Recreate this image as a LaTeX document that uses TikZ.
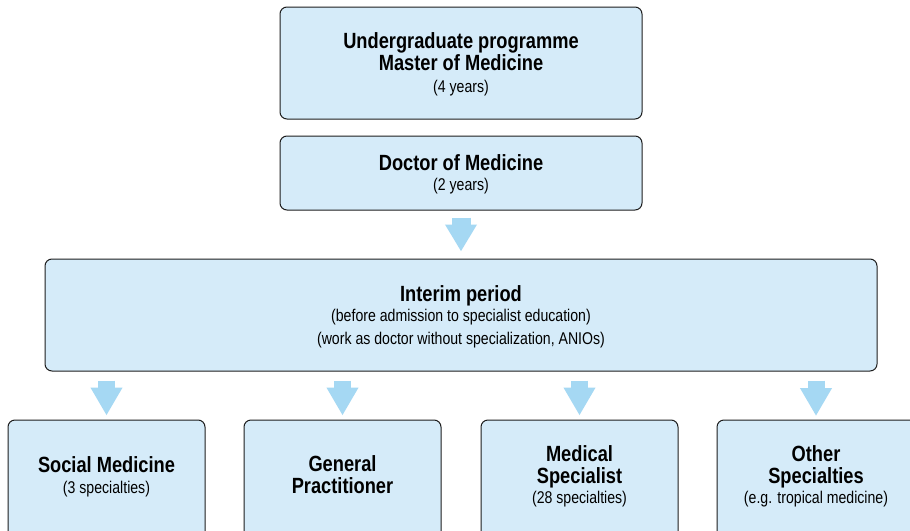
\documentclass[tikz,border=0pt]{standalone}
\usepackage{fontspec}
\setmainfont[FakeStretch=0.83]{Liberation Sans}
\usetikzlibrary{arrows.meta}
\definecolor{boxfill}{HTML}{D5EBF9}
\definecolor{arrowfill}{HTML}{A5D8F3}
\definecolor{boxline}{HTML}{1E1E1E}
\tikzset{
  box/.style={draw=boxline, line width=1pt, fill=boxfill, rounded corners=7pt, inner sep=0pt},
  bigarrow/.style={draw=arrowfill, line width=19pt, -{Triangle[width=30pt,length=27pt]}},
  smallarrow/.style={draw=arrowfill, line width=17pt, -{Triangle[width=30pt,length=28pt]}},
  titletxt/.style={anchor=base, inner sep=0pt, font=\fontsize{22}{22}\selectfont\bfseries},
  subtxt/.style={anchor=base, inner sep=0pt, font=\fontsize{17}{17}\selectfont},
}
\begin{document}
\begin{tikzpicture}[x=1pt,y=-1pt]
\useasboundingbox[fill=white] (0,0) rectangle (910,530);
% boxes
\node[box, minimum width=362pt, minimum height=112pt] (b1) at (461,63) {};
\node[box, minimum width=362pt, minimum height=74pt] (b2) at (461,173) {};
\node[box, minimum width=832pt, minimum height=112pt] (b3) at (461,315) {};
\node[box, minimum width=197pt, minimum height=130pt] (b4) at (106.5,485) {};
\node[box, minimum width=197pt, minimum height=130pt] (b5) at (342.5,485) {};
\node[box, minimum width=197pt, minimum height=130pt] (b6) at (579.5,485) {};
\node[box, minimum width=210pt, minimum height=130pt] (b7) at (822,485) {};
% texts
\node[titletxt] (t1a) at (461,48.5) {Undergraduate programme};
\node[titletxt] (t1b) at (461,70) {Master of Medicine};
\node[subtxt] (t1c) at (461,92) {(4 years)};
\node[titletxt] (t2a) at (461,170) {Doctor of Medicine};
\node[subtxt] (t2b) at (461,190) {(2 years)};
\node[titletxt] (t3a) at (461,301) {Interim period};
\node[subtxt] (t3b) at (461,321) {(before admission to specialist education)};
\node[subtxt] (t3c) at (461,344) {(work as doctor without specialization, ANIOs)};
\node[titletxt] (t4a) at (106.5,472) {Social Medicine};
\node[subtxt] (t4b) at (106.5,493) {(3 specialties)};
\node[titletxt] (t5a) at (342.5,471.5) {General};
\node[titletxt] (t5b) at (342.5,493) {Practitioner};
\node[titletxt] (t6a) at (579.5,461.5) {Medical};
\node[titletxt] (t6b) at (579.5,483) {Specialist};
\node[subtxt] (t6c) at (579.5,503) {(28 specialties)};
\node[titletxt] (t7a) at (816,461.5) {Other};
\node[titletxt] (t7b) at (816,483) {Specialties};
\node[subtxt] (t7c) at (816,503) {(e.g. tropical medicine)};
% arrows
\draw[bigarrow] ([yshift=-7pt]b2.south) -- ([yshift=7pt]b3.north);
\draw[smallarrow] ([yshift=-9pt]b3.south -| b4.north) -- ([yshift=4pt]b4.north);
\draw[smallarrow] ([yshift=-9pt]b3.south -| b5.north) -- ([yshift=4pt]b5.north);
\draw[smallarrow] ([yshift=-9pt]b3.south -| b6.north) -- ([yshift=4pt]b6.north);
\coordinate (b7n) at (816,420);
\draw[smallarrow] ([yshift=-9pt]b3.south -| b7n) -- ([yshift=4pt]b7n);
\end{tikzpicture}
\end{document}
